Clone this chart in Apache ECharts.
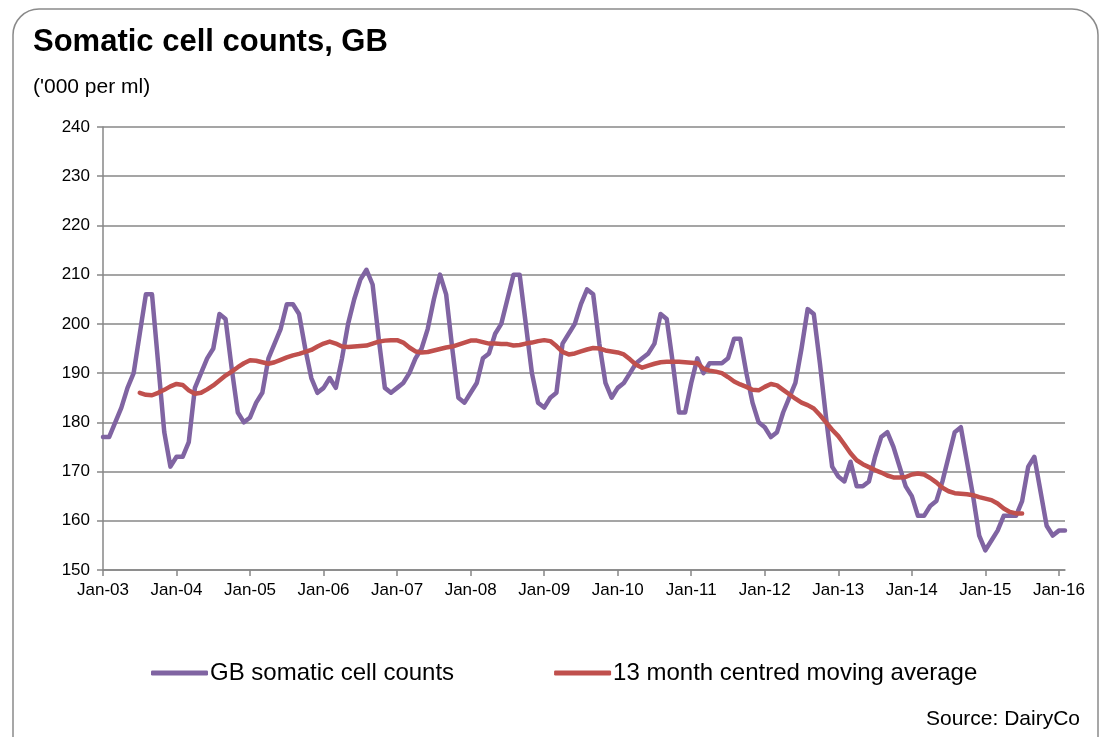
<!DOCTYPE html>
<html>
<head>
<meta charset="utf-8">
<script src="https://cdn.jsdelivr.net/npm/echarts@6/dist/echarts.min.js"></script>
<style>
html,body{margin:0;padding:0;background:#fff;}
#chart{width:1107px;height:737px;}
</style>
</head>
<body>
<div id="chart"></div>
<script>
// Monthly categories Jan-03 .. Feb-16
var monthNames = ['Jan','Feb','Mar','Apr','May','Jun','Jul','Aug','Sep','Oct','Nov','Dec'];
var years = ['03','04','05','06','07','08','09','10','11','12','13','14','15','16'];
var categories = [];
years.forEach(function (y) { monthNames.forEach(function (m) { categories.push(m + '-' + y); }); });
categories = categories.slice(0, 158);

// GB somatic cell counts ('000 per ml)
var sccValues = [
  177,177,180,183,187,190,198,206,206,192,178,171,
  173,173,176,187,190,193,195,202,201,191,182,180,
  181,184,186,193,196,199,204,204,202,195,189,186,
  187,189,187,193,200,205,209,211,208,197,187,186,
  187,188,190,193,195,199,205,210,206,195,185,184,
  186,188,193,194,198,200,205,210,210,200,190,184,
  183,185,186,196,198,200,204,207,206,196,188,185,
  187,188,190,192,193,194,196,202,201,192,182,182,
  188,193,190,192,192,192,193,197,197,190,184,180,
  179,177,178,182,185,188,195,203,202,192,181,171,
  169,168,172,167,167,168,173,177,178,175,171,167,
  165,161,161,163,164,168,173,178,179,172,165,157,
  154,156,158,161,161,161,164,171,173,166,159,157,
  158,158
];

// 13 month centred moving average
var maValues = [
  null,null,null,null,null,null,
  186.0,185.6,185.5,186.0,186.6,187.3,
  187.8,187.6,186.5,185.8,186.0,186.7,187.5,188.5,189.5,190.3,191.2,192.0,
  192.6,192.5,192.2,191.9,192.2,192.7,193.2,193.6,193.9,194.3,194.7,195.4,
  196.0,196.4,196.0,195.4,195.3,195.4,195.5,195.6,196.0,196.4,196.6,196.7,
  196.7,196.2,195.2,194.4,194.2,194.3,194.6,194.9,195.2,195.4,195.8,196.2,
  196.6,196.6,196.3,196.0,196.0,195.9,195.9,195.6,195.7,196.0,196.2,196.5,
  196.7,196.5,195.5,194.3,193.8,194.0,194.4,194.8,195.1,195.0,194.6,194.4,
  194.2,193.8,192.8,191.7,191.1,191.5,191.9,192.2,192.3,192.3,192.3,192.2,
  192.1,192.0,190.9,190.5,190.3,190.0,189.2,188.3,187.7,187.2,186.6,186.5,
  187.2,187.8,187.5,186.6,185.7,184.8,184.0,183.5,182.8,181.5,180.0,178.5,
  177.2,175.5,173.7,172.3,171.5,170.9,170.3,169.8,169.2,168.8,168.8,168.9,
  169.4,169.6,169.4,168.7,167.8,166.7,166.0,165.6,165.5,165.4,165.2,164.8,
  164.5,164.2,163.5,162.5,161.8,161.5,161.5,
  null,null,null,null,null,null,null
];

var seriesNames = ['GB somatic cell counts', '13 month centred moving average'];
var FONT = '"Liberation Sans", Arial, sans-serif';
var AXIS_GREY = '#878787';

var chart = echarts.init(document.getElementById('chart'), null, {renderer: 'canvas'});
chart.setOption({
  animation: false,
  backgroundColor: '#ffffff',
  graphic: [{
    type: 'rect',
    shape: {x: 13, y: 9, width: 1085, height: 760, r: 26},
    style: {fill: 'none', stroke: '#8a8a8a', lineWidth: 1.5},
    silent: true, z: -1
  }, {
    type: 'text',
    right: 27, top: 709,
    style: {text: 'Source: DairyCo', font: '21px ' + FONT, fill: '#000'}
  }],
  title: [{
    text: 'Somatic cell counts, GB',
    left: 28, top: 22,
    textStyle: {fontFamily: FONT, fontSize: 31, fontWeight: 'bold', color: '#000'}
  }, {
    text: "('000 per ml)",
    left: 28, top: 72,
    textStyle: {fontFamily: FONT, fontSize: 21, fontWeight: 'normal', color: '#000'}
  }],
  legend: {
    left: 146, top: 656,
    itemGap: 100,
    itemWidth: 57, itemHeight: 5,
    icon: 'roundRect',
    textStyle: {fontFamily: FONT, fontSize: 24, color: '#000', padding: [0, 0, 0, -3]},
    data: seriesNames
  },
  grid: {left: 103, right: 42, top: 127, bottom: 167, containLabel: false},
  xAxis: {
    type: 'category',
    data: categories,
    boundaryGap: false,
    axisLine: {show: true, lineStyle: {color: AXIS_GREY, width: 1.5}},
    axisTick: {show: true, length: 6, lineStyle: {color: AXIS_GREY, width: 1.5},
      interval: function (i) { return i % 12 === 0; }},
    axisLabel: {
      interval: function (i) { return i % 12 === 0; },
      fontFamily: FONT, fontSize: 17, color: '#000', margin: 12
    },
    splitLine: {show: false}
  },
  yAxis: {
    type: 'value',
    min: 150, max: 240, interval: 10,
    axisLine: {show: true, lineStyle: {color: AXIS_GREY, width: 1.5}},
    axisTick: {show: true, length: 6, lineStyle: {color: AXIS_GREY, width: 1.5}},
    axisLabel: {fontFamily: FONT, fontSize: 17, color: '#000', margin: 13},
    splitLine: {show: true, lineStyle: {color: AXIS_GREY, width: 1.5}}
  },
  series: [{
    name: seriesNames[0],
    type: 'line',
    data: sccValues,
    symbol: 'none',
    lineStyle: {color: '#8064A2', width: 4.5, join: 'round', cap: 'round'},
    itemStyle: {color: '#8064A2'}
  }, {
    name: seriesNames[1],
    type: 'line',
    data: maValues,
    symbol: 'none',
    connectNulls: false,
    lineStyle: {color: '#C0504D', width: 4.5, join: 'round', cap: 'round'},
    itemStyle: {color: '#C0504D'}
  }]
});
</script>
</body>
</html>
